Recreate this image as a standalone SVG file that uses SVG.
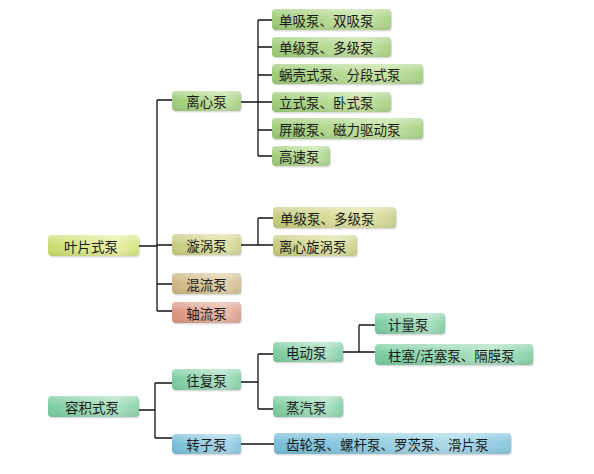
<svg xmlns="http://www.w3.org/2000/svg" width="594" height="474" viewBox="0 0 594 474">
<defs>
<linearGradient id="gYellow" x1="0" y1="0" x2="1" y2="0"><stop offset="0" stop-color="#c9dc6c"/><stop offset="0.75" stop-color="#e9f1a6"/><stop offset="1" stop-color="#d6e486"/></linearGradient>
<linearGradient id="gGreen" x1="0" y1="0" x2="1" y2="0"><stop offset="0" stop-color="#9ccb76"/><stop offset="0.75" stop-color="#c6e3a4"/><stop offset="1" stop-color="#aad28a"/></linearGradient>
<linearGradient id="gOlive" x1="0" y1="0" x2="1" y2="0"><stop offset="0" stop-color="#c3ca7c"/><stop offset="0.75" stop-color="#e2e6aa"/><stop offset="1" stop-color="#ccd290"/></linearGradient>
<linearGradient id="gTan" x1="0" y1="0" x2="1" y2="0"><stop offset="0" stop-color="#cbb47e"/><stop offset="0.75" stop-color="#e3d3ab"/><stop offset="1" stop-color="#d2bf94"/></linearGradient>
<linearGradient id="gSalmon" x1="0" y1="0" x2="1" y2="0"><stop offset="0" stop-color="#d8927c"/><stop offset="0.75" stop-color="#ebbcaa"/><stop offset="1" stop-color="#dca391"/></linearGradient>
<linearGradient id="gMint" x1="0" y1="0" x2="1" y2="0"><stop offset="0" stop-color="#78cb9e"/><stop offset="0.75" stop-color="#aee2c4"/><stop offset="1" stop-color="#8ad1aa"/></linearGradient>
<linearGradient id="gBlue" x1="0" y1="0" x2="1" y2="0"><stop offset="0" stop-color="#74bcd6"/><stop offset="0.75" stop-color="#acd9ea"/><stop offset="1" stop-color="#8bc7de"/></linearGradient>
<linearGradient id="gShine" x1="0" y1="0" x2="0" y2="1"><stop offset="0" stop-color="#ffffff" stop-opacity="0.35"/><stop offset="0.5" stop-color="#ffffff" stop-opacity="0"/><stop offset="1" stop-color="#000000" stop-opacity="0.08"/></linearGradient>
</defs>
<style>
.sh{fill:#000;opacity:0.13}
.sn{fill:url(#gShine)}
text{font-family:"Noto Sans CJK SC","Noto Sans CJK TC",sans-serif;font-size:13.5px;fill:#1c1c1c;dominant-baseline:central}
.c{text-anchor:middle}
.ln{fill:none;stroke:#111;stroke-width:1.3}
</style>
<rect width="594" height="474" fill="#ffffff"/>
<g id="connectors">
<path class="ln" d="M139 246H157M157 100V311M157 100H172M157 245H172M157 284H172M157 311H172"/>
<path class="ln" d="M241 102H258M258 20V156M258 20H272M258 47H272M258 75H272M258 102H272M258 130H272M258 156H272"/>
<path class="ln" d="M241 245H273M258 218V245M258 218H273"/>
<path class="ln" d="M139 410H155M155 383V438M155 383H172M155 438H172"/>
<path class="ln" d="M241 382H258M258 354V409M258 354H273M258 409H273"/>
<path class="ln" d="M343 352H359M359 325V352M359 325H375M359 352H375"/>
<path class="ln" d="M241 444H274"/>
</g>
<g id="yepian"><rect class="sh" x="49" y="236.5" width="91" height="21" rx="4"/><rect x="48" y="235" width="91" height="21" rx="4" fill="url(#gYellow)"/><rect class="sn" x="48" y="235" width="91" height="21" rx="4"/><text class="c" x="91" y="245.5">叶片式泵</text></g>
<g id="lixin"><rect class="sh" x="173" y="92.5" width="69" height="20" rx="4"/><rect x="172" y="91" width="69" height="20" rx="4" fill="url(#gGreen)"/><rect class="sn" x="172" y="91" width="69" height="20" rx="4"/><text class="c" x="206.5" y="101">离心泵</text></g>
<g id="xuanwo"><rect class="sh" x="173" y="235.5" width="69" height="21" rx="4"/><rect x="172" y="234" width="69" height="21" rx="4" fill="url(#gOlive)"/><rect class="sn" x="172" y="234" width="69" height="21" rx="4"/><text class="c" x="206.5" y="244.5">漩涡泵</text></g>
<g id="hunliu"><rect class="sh" x="173" y="274.5" width="69" height="21" rx="4"/><rect x="172" y="273" width="69" height="21" rx="4" fill="url(#gTan)"/><rect class="sn" x="172" y="273" width="69" height="21" rx="4"/><text class="c" x="206.5" y="283.5">混流泵</text></g>
<g id="zhouliu"><rect class="sh" x="173" y="303.5" width="69" height="21" rx="4"/><rect x="172" y="302" width="69" height="21" rx="4" fill="url(#gSalmon)"/><rect class="sn" x="172" y="302" width="69" height="21" rx="4"/><text class="c" x="206.5" y="312.5">轴流泵</text></g>
<g id="rongji"><rect class="sh" x="49" y="397.5" width="91" height="21" rx="4"/><rect x="48" y="396" width="91" height="21" rx="4" fill="url(#gMint)"/><rect class="sn" x="48" y="396" width="91" height="21" rx="4"/><text class="c" x="92" y="406.5">容积式泵</text></g>
<g id="wangfu"><rect class="sh" x="173" y="370.5" width="69" height="21" rx="4"/><rect x="172" y="369" width="69" height="21" rx="4" fill="url(#gMint)"/><rect class="sn" x="172" y="369" width="69" height="21" rx="4"/><text class="c" x="206.5" y="379.5">往复泵</text></g>
<g id="zhuanzi"><rect class="sh" x="173" y="435.5" width="69" height="20" rx="4"/><rect x="172" y="434" width="69" height="20" rx="4" fill="url(#gBlue)"/><rect class="sn" x="172" y="434" width="69" height="20" rx="4"/><text class="c" x="206.5" y="444">转子泵</text></g>
<g id="c1"><rect class="sh" x="273" y="10.5" width="119" height="21" rx="4"/><rect x="272" y="9" width="119" height="21" rx="4" fill="url(#gGreen)"/><rect class="sn" x="272" y="9" width="119" height="21" rx="4"/><text x="279" y="19.5">单吸泵、双吸泵</text></g>
<g id="c2"><rect class="sh" x="273" y="38.5" width="119" height="20" rx="4"/><rect x="272" y="37" width="119" height="20" rx="4" fill="url(#gGreen)"/><rect class="sn" x="272" y="37" width="119" height="20" rx="4"/><text x="279" y="47">单级泵、多级泵</text></g>
<g id="c3"><rect class="sh" x="273" y="65.5" width="151" height="20" rx="4"/><rect x="272" y="64" width="151" height="20" rx="4" fill="url(#gGreen)"/><rect class="sn" x="272" y="64" width="151" height="20" rx="4"/><text x="279" y="74">蜗壳式泵、分段式泵</text></g>
<g id="c4"><rect class="sh" x="273" y="93.5" width="119" height="20" rx="4"/><rect x="272" y="92" width="119" height="20" rx="4" fill="url(#gGreen)"/><rect class="sn" x="272" y="92" width="119" height="20" rx="4"/><text x="279" y="102">立式泵、卧式泵</text></g>
<g id="c5"><rect class="sh" x="273" y="119.5" width="151" height="21" rx="4"/><rect x="272" y="118" width="151" height="21" rx="4" fill="url(#gGreen)"/><rect class="sn" x="272" y="118" width="151" height="21" rx="4"/><text x="279" y="128.5">屏蔽泵、磁力驱动泵</text></g>
<g id="c6"><rect class="sh" x="273" y="147.5" width="58" height="20" rx="4"/><rect x="272" y="146" width="58" height="20" rx="4" fill="url(#gGreen)"/><rect class="sn" x="272" y="146" width="58" height="20" rx="4"/><text x="279" y="156">高速泵</text></g>
<g id="x1"><rect class="sh" x="274" y="208.5" width="123" height="21" rx="4"/><rect x="273" y="207" width="123" height="21" rx="4" fill="url(#gOlive)"/><rect class="sn" x="273" y="207" width="123" height="21" rx="4"/><text x="280" y="217.5">单级泵、多级泵</text></g>
<g id="x2"><rect class="sh" x="274" y="236.5" width="84" height="21" rx="4"/><rect x="273" y="235" width="84" height="21" rx="4" fill="url(#gOlive)"/><rect class="sn" x="273" y="235" width="84" height="21" rx="4"/><text x="279" y="245.5">离心旋涡泵</text></g>
<g id="d1"><rect class="sh" x="274" y="343.5" width="70" height="20" rx="4"/><rect x="273" y="342" width="70" height="20" rx="4" fill="url(#gMint)"/><rect class="sn" x="273" y="342" width="70" height="20" rx="4"/><text x="286" y="352">电动泵</text></g>
<g id="d2"><rect class="sh" x="274" y="397.5" width="70" height="21" rx="4"/><rect x="273" y="396" width="70" height="21" rx="4" fill="url(#gMint)"/><rect class="sn" x="273" y="396" width="70" height="21" rx="4"/><text x="286" y="406.5">蒸汽泵</text></g>
<g id="e1"><rect class="sh" x="376" y="314.5" width="70" height="21" rx="4"/><rect x="375" y="313" width="70" height="21" rx="4" fill="url(#gMint)"/><rect class="sn" x="375" y="313" width="70" height="21" rx="4"/><text x="388" y="323.5">计量泵</text></g>
<g id="e2"><rect class="sh" x="376" y="345.5" width="158" height="21" rx="4"/><rect x="375" y="344" width="158" height="21" rx="4" fill="url(#gMint)"/><rect class="sn" x="375" y="344" width="158" height="21" rx="4"/><text x="388" y="354.5">柱塞/活塞泵、隔膜泵</text></g>
<g id="z1"><rect class="sh" x="275" y="434.5" width="237" height="21" rx="4"/><rect x="274" y="433" width="237" height="21" rx="4" fill="url(#gBlue)"/><rect class="sn" x="274" y="433" width="237" height="21" rx="4"/><text x="286" y="443.5">齿轮泵、螺杆泵、罗茨泵、滑片泵</text></g>
</svg>
